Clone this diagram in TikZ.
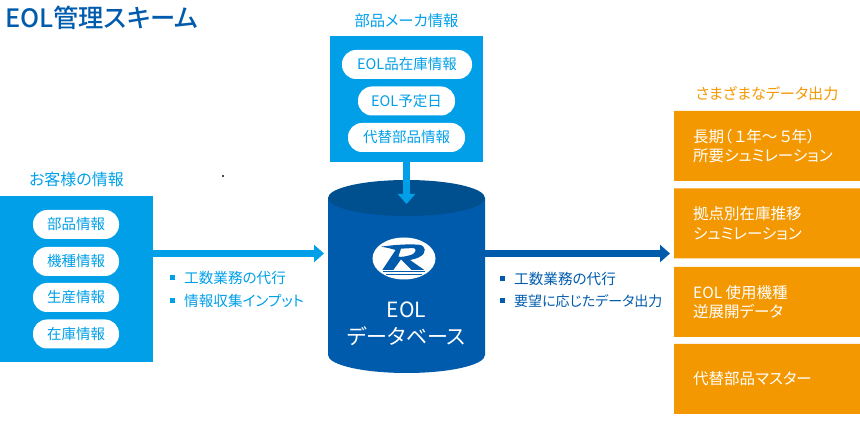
\documentclass[tikz,border=0pt]{standalone}
\usepackage{fontspec}
\setmainfont[RawFeature=+palt]{Noto Sans CJK JP}
\newfontfamily\titlefont[RawFeature=+palt]{Noto Sans CJK JP Medium}
\usetikzlibrary{arrows.meta,shapes.misc}
\definecolor{skyblue}{HTML}{009FE8}
\definecolor{navyblue}{HTML}{005BAC}
\definecolor{darktop}{HTML}{00508F}
\definecolor{amber}{HTML}{F39800}
\tikzset{
  panel/.style={fill=skyblue,inner sep=0pt},
  pill/.style={fill=white,rounded corners=14pt,inner sep=0pt,minimum height=29pt,text=skyblue,font=\fontsize{14.5}{17}\selectfont},
  heading/.style={inner sep=0pt,font=\fontsize{15.3}{18}\selectfont},
  outbox/.style={chamfered rectangle,chamfered rectangle corners=south east,chamfered rectangle xsep=17pt,chamfered rectangle ysep=16pt,fill=amber,inner sep=0pt,minimum width=186pt,minimum height=70pt},
  outtext/.style={anchor=west,inner sep=0pt,text=white,align=left,font=\fontsize{15.5}{19.5}\selectfont},
  flow/.style={line width=7pt,-{Triangle[width=17pt,length=10pt]}},
  note/.style={anchor=west,inner sep=0pt,font=\fontsize{14.6}{17}\selectfont}
}
\begin{document}
\begin{tikzpicture}[x=1pt,y=-1pt]
\useasboundingbox (0,0) rectangle (860,438);
\node[anchor=west,inner sep=0pt,text=navyblue,font=\fontsize{25.3}{28}\titlefont] (title) at (5,18) {EOL管理スキーム};
\node[inner sep=0pt,fill=black!70,minimum size=1.5pt] (speck) at (223,176) {};

\node[panel,minimum width=153pt,minimum height=126pt] (makerbox) at (406.5,99) {};
\node[heading,text=skyblue] (makerhead) at (406.5,21) {部品メーカ情報};
\node[pill,minimum width=130pt] (maker1) at (407,64.5) {EOL品在庫情報};
\node[pill,minimum width=97pt] (maker2) at (406.5,101) {EOL予定日};
\node[pill,minimum width=117pt] (maker3) at (406.5,137.5) {代替部品情報};

\node[panel,minimum width=153pt,minimum height=166pt] (custbox) at (76.5,279) {};
\node[heading,text=skyblue,font=\fontsize{16}{18}\selectfont] (custhead) at (76.5,179) {お客様の情報};
\foreach \y/\t [count=\i] in {224.5/部品情報,261.5/機種情報,297.5/生産情報,334/在庫情報}
    \node[pill,minimum width=86pt] (cust\i) at (76,\y) {\t};

\fill[navyblue] (328,198) -- (328,355) arc[start angle=180,end angle=0,x radius=78.5,y radius=18] -- (485,198) -- cycle;
\fill[darktop] (406.5,198) ellipse[x radius=78.5,y radius=18];
\node[inner sep=0pt,minimum width=157pt,minimum height=193pt] (db) at (406.5,276.5) {};
\fill[white] (404,258.5) ellipse[x radius=31.5,y radius=21];
\begin{scope}[shift={(365,230)},x=0.3333pt,y=-0.3333pt]
\fill[navyblue,even odd rule] (48,50) .. controls (90,44) and (130,42) .. (160,44) .. controls (185,46) and (185,70) .. (165,80) .. controls (155,86) and (145,88) .. (135,90) -- (178,120) -- (140,120) -- (108,88) -- (85,120) -- (52,120) -- (92,60) .. controls (78,56) and (62,52) .. (48,50) -- cycle
  (108,56) -- (146,54) .. controls (156,56) and (152,70) .. (140,74) .. controls (128,78) and (112,82) .. (100,80) -- cycle;
\fill[navyblue] (54,124) rectangle (180,127);
\fill[navyblue] (62,133) rectangle (172,135);
\end{scope}
\node[inner sep=0pt,text=white,align=center,font=\fontsize{21}{27}\selectfont] (dbname) at (406.5,323.5) {EOL\\データベース};

\coordinate (dbtop) at (406.5,204);
\coordinate (dbin) at (324,253.5);
\coordinate (dbout) at (670,253.5);
\draw[flow,skyblue] (makerbox.south) -- (dbtop);
\draw[flow,skyblue] (custbox.east |- dbin) -- (dbin);
\draw[flow,navyblue] (db.east |- dbout) -- (dbout);

\foreach \x/\y/\t/\c in {172/278/工数業務の代行/skyblue,172/301/情報収集インプット/skyblue,502/279/工数業務の代行/navyblue,502/301/{\fontsize{14}{17}\selectfont 要望に応じたデータ出力}/navyblue}{
    \node[fill=\c,inner sep=0pt,minimum size=5pt] (sq\x\y) at (\x,\y) {};
    \node[note,text=\c] (txt\x\y) at (\x+12,\y) {\t};
}

\node[heading,text=amber,font=\fontsize{15.1}{18}\selectfont] (outhead) at (767,94) {さまざまなデータ出力};
\foreach \y/\t [count=\i] in {146/{長期（\,１年～\,５年）\\所要シュミレーション},223.5/{拠点別在庫推移\\シュミレーション},302/{EOL 使用機種\\逆展開データ},379/代替部品マスター}{
    \node[outbox] (out\i) at (767,\y) {};
    \node[outtext] (outlabel\i) at (693,\y) {\t};
}
\end{tikzpicture}
\end{document}
